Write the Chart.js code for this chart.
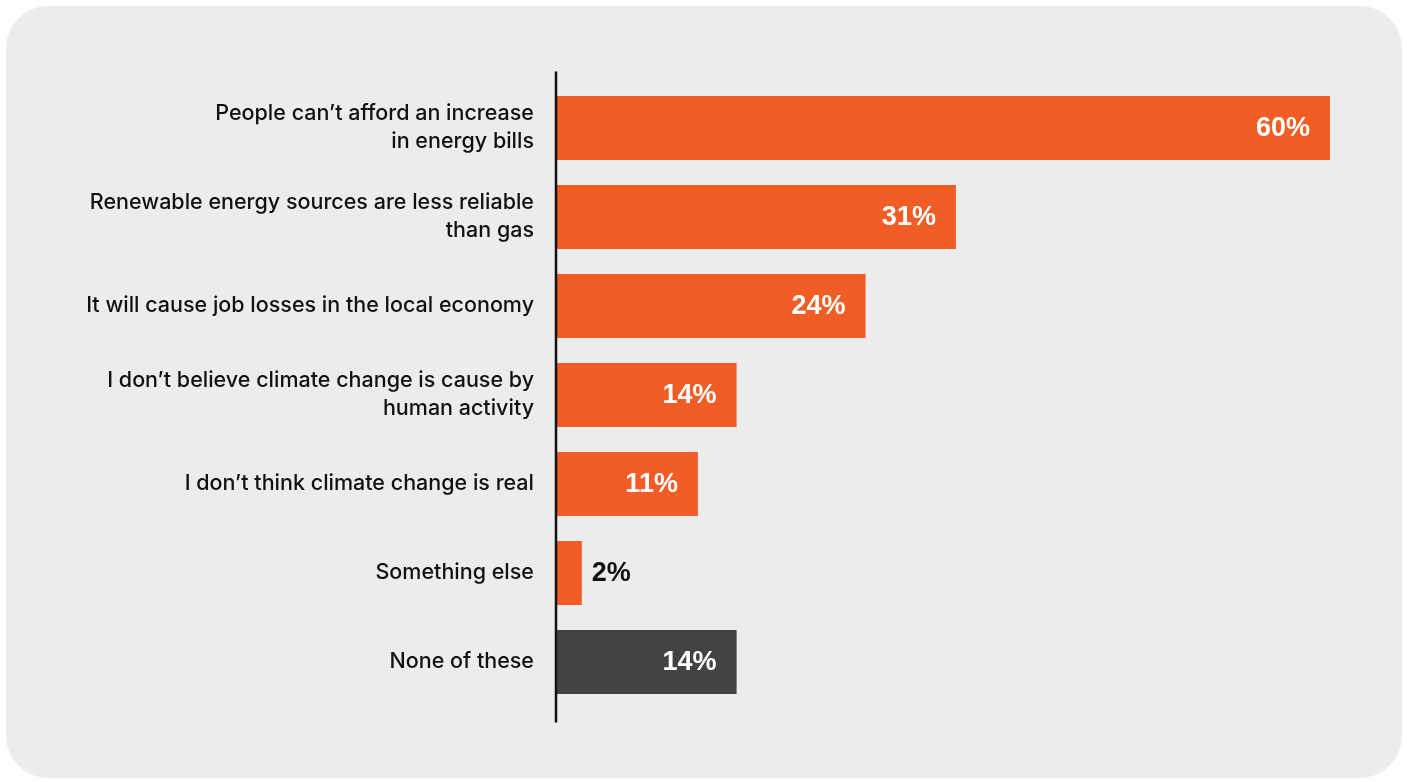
<!DOCTYPE html>
<html>
<head>
<meta charset="utf-8">
<script src="https://cdn.jsdelivr.net/npm/chart.js@4"></script>
<style>
  html, body { margin: 0; padding: 0; background: #fff; }
  #wrap { width: 1407px; height: 782px; }
</style>
</head>
<body>
<div id="wrap"><canvas id="chart" width="1407" height="782"></canvas></div>
<script>
const categories = [
  ["People can\u2019t afford an increase", "in energy bills"],
  ["Renewable energy sources are less reliable", "than gas"],
  "It will cause job losses in the local economy",
  ["I don\u2019t believe climate change is cause by", "human activity"],
  "I don\u2019t think climate change is real",
  "Something else",
  "None of these"
];
const values = [60, 31, 24, 14, 11, 2, 14];

const orange = "#F15D25";
const grey = "#434343";
const barColors = values.map((v, i) => i === values.length - 1 ? grey : orange);

// rounded grey panel behind the chart
const panel = {
  id: "panel",
  beforeDraw(chart) {
    const ctx = chart.ctx;
    ctx.save();
    ctx.fillStyle = "#ECECEC";
    ctx.beginPath();
    ctx.roundRect(6, 6, 1396, 772, 42);
    ctx.fill();
    ctx.restore();
  }
};

// vertical axis line, a bit longer than the bars
const axisLine = {
  id: "axisLine",
  afterDatasetsDraw(chart) {
    const ctx = chart.ctx;
    const a = chart.chartArea;
    ctx.save();
    ctx.strokeStyle = "#111";
    ctx.lineWidth = 2.5;
    ctx.beginPath();
    ctx.moveTo(a.left, a.top - 12);
    ctx.lineTo(a.left, a.bottom + 16);
    ctx.stroke();
    ctx.restore();
  }
};

// percentage labels on the bars
const valueLabels = {
  id: "valueLabels",
  afterDatasetsDraw(chart) {
    const ctx = chart.ctx;
    const meta = chart.getDatasetMeta(0);
    ctx.save();
    ctx.font = "bold 27px 'Liberation Sans', Arial, sans-serif";
    ctx.textBaseline = "middle";
    meta.data.forEach((bar, i) => {
      const txt = values[i] + "%";
      if (values[i] >= 5) {
        ctx.fillStyle = "#fff";
        ctx.textAlign = "right";
        ctx.fillText(txt, bar.x - 20, bar.y + 1);
      } else {
        ctx.fillStyle = "#111";
        ctx.textAlign = "left";
        ctx.fillText(txt, bar.x + 10, bar.y + 1);
      }
    });
    ctx.restore();
  }
};

new Chart(document.getElementById("chart"), {
  type: "bar",
  data: {
    labels: categories,
    datasets: [{
      data: values,
      backgroundColor: barColors,
      borderWidth: 0,
      barPercentage: 0.72,
      categoryPercentage: 1
    }]
  },
  options: {
    indexAxis: "y",
    responsive: false,
    animation: false,
    layout: { padding: { top: 83.5, bottom: 75.5, right: 77, left: 0 } },
    scales: {
      x: { display: false, min: 0, max: 60 },
      y: {
        afterFit(scale) { scale.width = 556; },
        border: { display: false },
        grid: { display: false, drawTicks: false },
        ticks: {
          padding: 22,
          color: "#111",
          font: { family: "Inter, sans-serif", size: 21.5, weight: 500, lineHeight: 1.3 }
        }
      }
    },
    plugins: {
      legend: { display: false },
      tooltip: { enabled: false }
    }
  },
  plugins: [panel, axisLine, valueLabels]
});
</script>
</body>
</html>
